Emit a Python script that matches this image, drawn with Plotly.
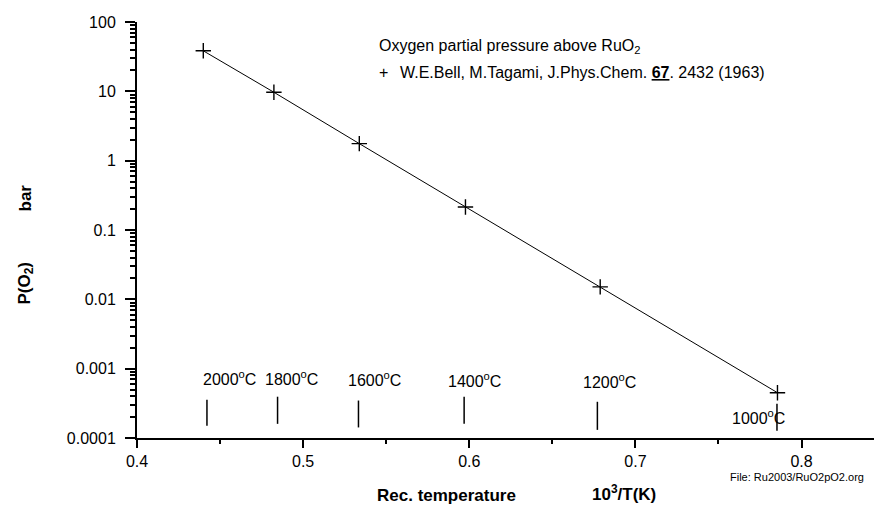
import plotly.graph_objects as go

# ---- data ----
inv_T = [0.4399, 0.4824, 0.5338, 0.5977, 0.6788, 0.7855]      # 10^3/T(K)
p_O2 = [38.4, 9.7, 1.76, 0.215, 0.0151, 0.00045]              # bar

temp_labels = ["2000", "1800", "1600", "1400", "1200", "1000"]  # deg C
temp_mark_x = [0.4421, 0.4846, 0.5333, 0.5969, 0.6771, 0.7852]
temp_mark_top = [3.56e-4, 3.94e-4, 3.47e-4, 3.94e-4, 3.33e-4, 3.12e-4]
temp_mark_bot = [1.50e-4, 1.60e-4, 1.42e-4, 1.60e-4, 1.31e-4, 1.27e-4]
temp_label_x = [0.4555, 0.4931, 0.5428, 0.6029, 0.6841, 0.7740]
temp_label_y = [0.1442, 0.1442, 0.1418, 0.1394, 0.1370, 0.0505]  # paper

y_tickvals = [1e-4, 1e-3, 1e-2, 1e-1, 1, 10, 100]
y_ticktext = ["0.0001", "0.001", "0.01", "0.1", "1", "10", "100"]
y_minor = [k * 10.0 ** e for e in range(-4, 2) for k in range(2, 10)]

FONT = "Liberation Sans, Arial, sans-serif"

fig = go.Figure()

fig.add_trace(go.Scatter(
    x=inv_T, y=p_O2, mode="lines+markers",
    line=dict(color="black", width=1),
    marker=dict(symbol="cross-thin", size=11, line=dict(color="black", width=1.4)),
    showlegend=False, hoverinfo="x+y",
))

for xm, yt, yb in zip(temp_mark_x, temp_mark_top, temp_mark_bot):
    fig.add_trace(go.Scatter(
        x=[xm, xm], y=[yt, yb], mode="lines",
        line=dict(color="black", width=1.5),
        showlegend=False, hoverinfo="skip",
    ))

annotations = []
for lab, lx, ly in zip(temp_labels, temp_label_x, temp_label_y):
    annotations.append(dict(
        x=lx, xref="x", y=ly, yref="paper", text=f"{lab}<sup>o</sup>C",
        showarrow=False, xanchor="center", yanchor="middle",
        font=dict(family=FONT, size=16, color="black"),
    ))

annotations += [
    dict(x=0.3252, xref="paper", y=0.94, yref="paper",
         text="Oxygen partial pressure above RuO<sub>2</sub>",
         showarrow=False, xanchor="left", yanchor="middle",
         font=dict(family=FONT, size=16, color="black")),
    dict(x=0.3252, xref="paper", y=0.8798, yref="paper",
         text="+",
         showarrow=False, xanchor="left", yanchor="middle",
         font=dict(family=FONT, size=16, color="black")),
    dict(x=(398 - 137) / 737, xref="paper", y=0.8798, yref="paper",
         text="W.E.Bell, M.Tagami, J.Phys.Chem. <b><u>67</u></b>. 2432 (1963)",
         showarrow=False, xanchor="left", yanchor="middle",
         font=dict(family=FONT, size=16, color="black")),
    dict(x=(727.7 - 137) / 737, xref="paper", y=(438 - 477) / 416, yref="paper",
         text="File: Ru2003/RuO2pO2.org",
         showarrow=False, xanchor="left", yanchor="middle",
         font=dict(family=FONT, size=11, color="black")),
    dict(x=(446.5 - 137) / 737, xref="paper", y=(438 - 495) / 416, yref="paper",
         text="<b>Rec. temperature</b>",
         showarrow=False, xanchor="center", yanchor="middle",
         font=dict(family=FONT, size=17, color="black")),
    dict(x=(624 - 137) / 737, xref="paper", y=(438 - 493) / 416, yref="paper",
         text="<b>10<sup>3</sup>/T(K)</b>",
         showarrow=False, xanchor="center", yanchor="middle",
         font=dict(family=FONT, size=17, color="black")),
    dict(x=(25 - 137) / 737, xref="paper", y=1 - (198.5 - 22) / 416, yref="paper",
         text="<b>bar</b>", textangle=-90,
         showarrow=False, xanchor="center", yanchor="middle",
         font=dict(family=FONT, size=17, color="black")),
    dict(x=(25 - 137) / 737, xref="paper", y=1 - (283.5 - 22) / 416, yref="paper",
         text="<b>P(O<sub>2</sub>)</b>", textangle=-90,
         showarrow=False, xanchor="center", yanchor="middle",
         font=dict(family=FONT, size=17, color="black")),
]

fig.update_layout(
    width=874, height=507,
    margin=dict(l=137, r=0, t=22, b=69),
    paper_bgcolor="white", plot_bgcolor="white",
    font=dict(family=FONT, size=16, color="black"),
    annotations=annotations,
    showlegend=False,
)

fig.update_xaxes(
    range=[0.4, 0.8436], tick0=0.4, dtick=0.1, tickformat=".1f",
    showgrid=False, zeroline=False,
    showline=True, linecolor="black", linewidth=2,
    ticks="outside", ticklen=8, tickwidth=2, tickcolor="black",
    ticklabelstandoff=0,
    minor=dict(dtick=0.05, tick0=0.4, ticks="outside", ticklen=4, tickwidth=2,
               tickcolor="black", showgrid=False),
    tickfont=dict(family=FONT, size=16, color="black"),
)

fig.update_yaxes(
    type="log", range=[-4, 2],
    tickmode="array", tickvals=y_tickvals, ticktext=y_ticktext,
    showgrid=False, zeroline=False,
    showline=True, linecolor="black", linewidth=2,
    ticks="outside", ticklen=10, tickwidth=1.5, tickcolor="black",
    ticklabelstandoff=6,
    minor=dict(tickmode="array", tickvals=y_minor, ticks="outside", ticklen=5,
               tickwidth=1.5, tickcolor="black", showgrid=False),
    tickfont=dict(family=FONT, size=16, color="black"),
)

fig.write_html("out.html")
